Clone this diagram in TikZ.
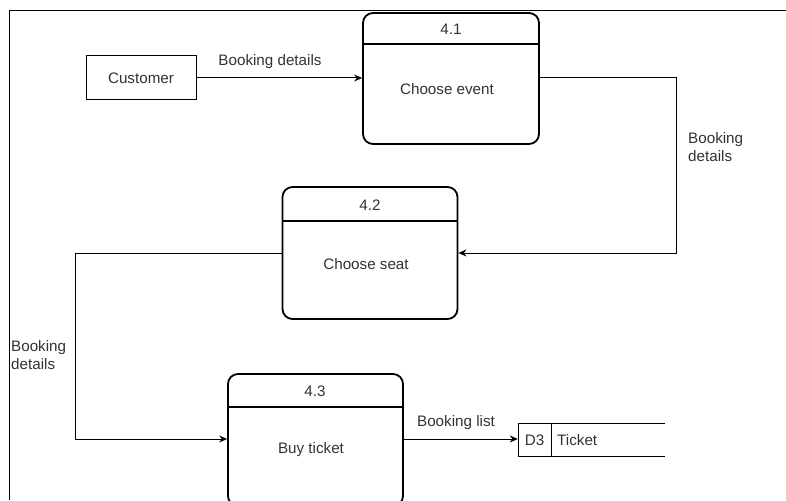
\documentclass[tikz,border=0pt]{standalone}
\usepackage{fontspec}
\setmainfont{Liberation Sans}
\usetikzlibrary{arrows.meta}
\definecolor{txt}{HTML}{333333}
\begin{document}
\begin{tikzpicture}[x=1pt,y=-1pt,
  every node/.style={font=\fontsize{15.2}{18}\selectfont, text=txt},
  proc/.style={draw, line width=1.8pt, rounded corners=10pt, inner sep=0pt},
  ent/.style={draw, line width=1pt, inner sep=0pt},
  flow/.style={line width=1pt, -{Stealth[length=8pt,width=7pt]}},
  lbl/.style={inner sep=0pt, align=left}]
\useasboundingbox (0,0) rectangle (786,500);
\clip (0,0) rectangle (786,500);
\fill[white] (0,0) rectangle (786,500);
% frame
\draw[line width=1pt] (9,500) -- (9,11) -- (786,11);
% customer
\node[ent, minimum width=110pt, minimum height=44pt] (cust) at (141,78) {Customer};
% process 4.1
\node[proc, minimum width=176pt, minimum height=131pt] (p1) at (451,78.5) {};
\draw[line width=1.8pt] (363,44) -- (539,44);
\node (p1id) at (451,29.5) {4.1};
\node (p1t) at (447,89) {Choose event};
% process 4.2
\node[proc, minimum width=175pt, minimum height=132pt] (p2) at (370,253) {};
\draw[line width=1.8pt] (282.5,221) -- (457.5,221);
\node (p2id) at (370,205) {4.2};
\node (p2t) at (366,264) {Choose seat};
% process 4.3
\node[proc, minimum width=175pt, minimum height=132pt] (p3) at (315.5,440) {};
\draw[line width=1.8pt] (228,407) -- (403,407);
\node (p3id) at (315,391) {4.3};
\node (p3t) at (311,450) {Buy ticket};
% data store
\node[inner sep=0pt, minimum width=147pt, minimum height=33pt] (ds) at (591.5,439.5) {};
\draw[line width=1pt] (665,423) -- (518,423) -- (518,456) -- (665,456);
\draw[line width=1pt] (551,423) -- (551,456);
\node (dsid) at (534.5,440) {D3};
\node[anchor=west, inner sep=0pt] (dsn) at (557,440) {Ticket};
% flows
\coordinate (c1) at (676,78);
\coordinate (c2) at (676,253);
\coordinate (c3) at (75,253);
\coordinate (c4) at (75,439);
\draw[flow] (cust.east) -- (p1.west |- cust.east);
\draw[flow] (p1.east |- c1) -- (c1) -- (c2) -- (p2.east |- c2);
\draw[flow] (p2.west |- c3) -- (c3) -- (c4) -- (p3.west |- c4);
\draw[flow] (p3.east |- c4) -- (ds.west |- c4);
% labels
\node[lbl] (l1) at (270,62) {Booking details};
\node[lbl, anchor=west] (l2) at (688,147) {Booking\\details};
\node[lbl, anchor=west] (l3) at (11,355) {Booking\\details};
\node[lbl] (l4) at (456,423) {Booking list};
\end{tikzpicture}
\end{document}
